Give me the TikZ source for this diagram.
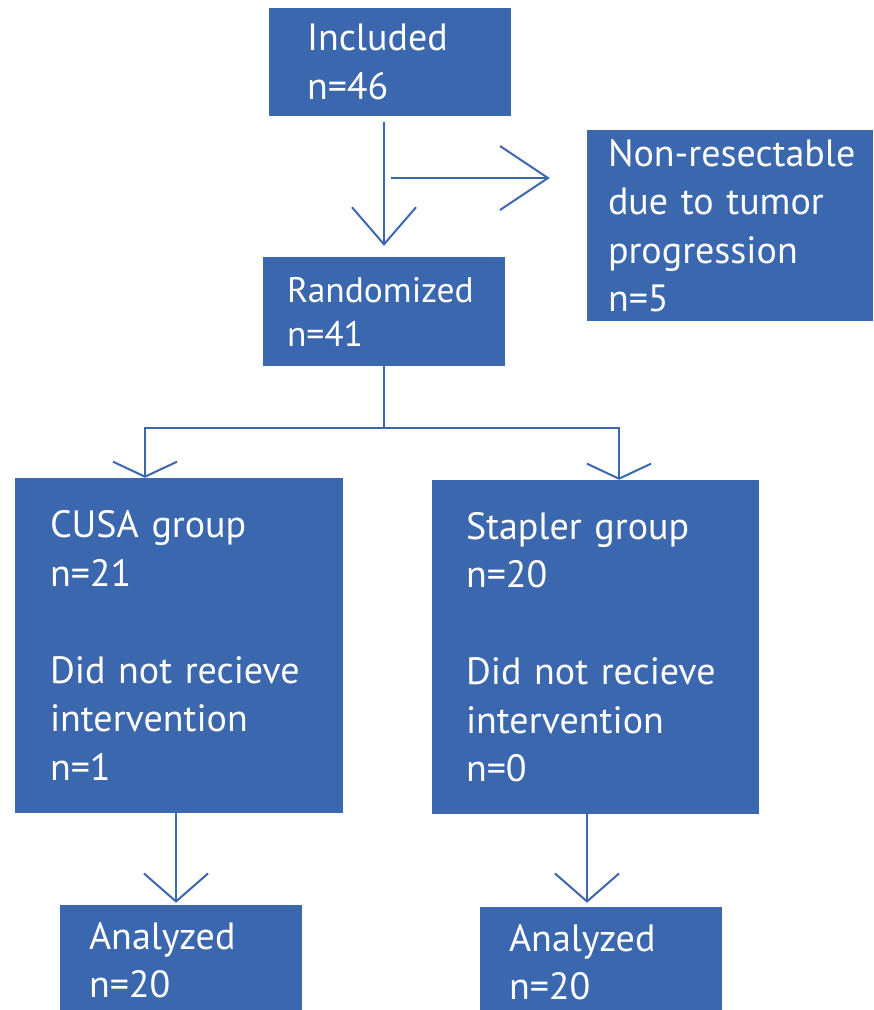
\documentclass[tikz,border=0pt]{standalone}
\usepackage{fontspec}
\setmainfont{PT Sans}
\usetikzlibrary{arrows.meta,positioning}
\definecolor{flowblue}{RGB}{59,103,175}
\exhyphenpenalty=10000
\hyphenpenalty=10000

\begin{document}
\begin{tikzpicture}[
  x=1pt, y=-1pt,
  font=\fontsize{38}{48.5}\selectfont,
  box/.style={fill=flowblue, text=white, align=left, inner ysep=0pt},
  link/.style={draw=flowblue, line width=2pt},
  arr/.style={link, -{Straight Barb[length=#1, width=64pt]}}
]
\useasboundingbox (0,0) rectangle (874,1010);

\node[box, text width=166pt, inner xsep=38pt, minimum height=108pt] (incl) at (390,62) {Included\\n=46};
\node[box, font=\fontsize{35.5}{44}\selectfont, text width=194pt, inner xsep=24pt, minimum height=109pt] (rand) at (384,311.5) {Randomized\\n=41};
\node[box, text width=244pt, inner xsep=21pt, minimum height=191pt] (nonres) at (730,225.5) {Non-resectable\\due to tumor\\progression\\n=5};
\node[box, text width=258pt, inner xsep=35pt, minimum height=335pt] (cusa) at (179,645.5) {CUSA group\\n=21\\[48.5pt]Did not recieve\\intervention\\n=1};
\node[box, text width=259pt, inner xsep=34pt, minimum height=334pt] (stap) at (595.5,647) {Stapler group\\n=20\\[48.5pt]Did not recieve\\intervention\\n=0};
\node[box, text width=184pt, inner xsep=29pt, minimum height=110pt] (anl) at (181,960) {Analyzed\\n=20};
\node[box, text width=184pt, inner xsep=29pt, minimum height=110pt] (anr) at (601,962) {Analyzed\\n=20};

% included -> randomized, with side branch
\draw[arr=37pt, shorten <=6pt, shorten >=11pt] (rand.north |- incl.south) -- (rand.north);
\coordinate (branch) at (391,178);
\draw[arr=48pt, shorten >=37pt] (branch) -- (branch -| nonres.west);

% split into the two groups
\coordinate (split) at (384,428);
\draw[link] (rand.south) -- (split);
\draw[arr=15pt] (split) -| ([xshift=-34pt]cusa.north);
\draw[arr=15pt] (split) -| ([xshift=23.5pt]stap.north);

% groups -> analyzed
\draw[arr=28pt, shorten >=2pt] ([xshift=-3pt]cusa.south) -- ([xshift=-3pt]cusa.south |- anl.north);
\draw[arr=28pt, shorten >=4pt] ([xshift=-8.5pt]stap.south) -- ([xshift=-8.5pt]stap.south |- anr.north);
\end{tikzpicture}
\end{document}
